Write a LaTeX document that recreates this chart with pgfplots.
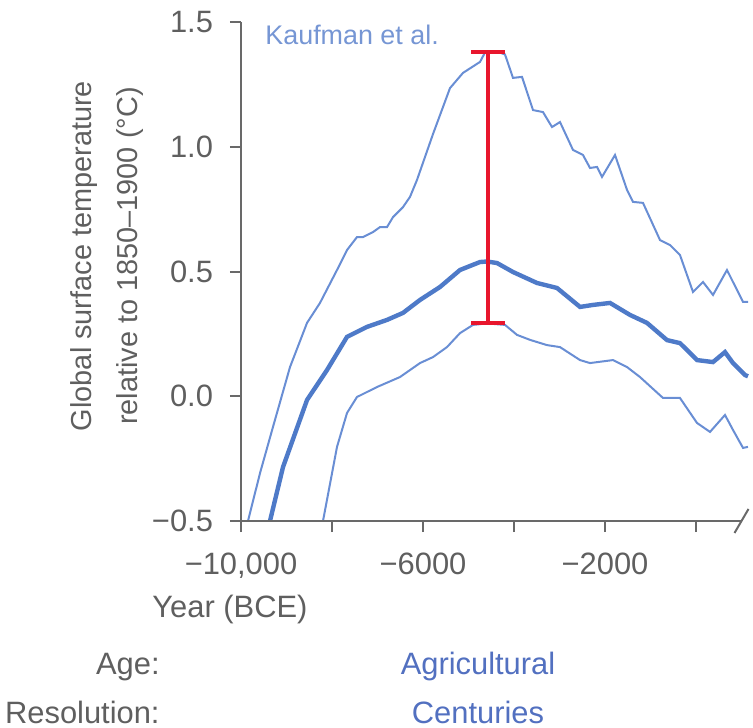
\documentclass[border=0pt]{standalone}
\usepackage{fontspec}
\setmainfont{Liberation Sans}
\usepackage{pgfplots}
\pgfplotsset{compat=1.18}

\definecolor{axisgray}{RGB}{105,105,105}
\definecolor{labgray}{RGB}{95,95,95}
\definecolor{thinblue}{RGB}{105,142,212}
\definecolor{meanblue}{RGB}{78,122,200}
\definecolor{txtblue}{RGB}{118,150,212}
\definecolor{agblue}{RGB}{82,112,192}
\definecolor{barred}{RGB}{232,22,45}

\begin{document}
\begin{tikzpicture}
  % 1 px of the reference = 0.5bp, origin at the axis corner (-10000,-0.5)
  \useasboundingbox (-120.5bp,-103.5bp) rectangle (256bp,260.5bp);
  \begin{axis}[
      scale only axis, width=250.25bp, height=249.5bp,
      xmin=-10000, xmax=1000, ymin=-0.5, ymax=1.5,
      clip=false, scaled x ticks=false,
      axis lines=left, axis line style={-, axisgray, line width=1bp},
      x axis line style={draw=none},
      xtick={-10000,-8000,-6000,-4000,-2000,0},
      xticklabels={{−10,000},,−6000,,−2000,},
      ytick={-0.5,0,0.5,1,1.5},
      yticklabels={−0.5,0.0,0.5,1.0,1.5},
      tick align=outside, major tick length=5.5bp,
      tick style={axisgray, line width=1bp},
      tick label style={font=\fontsize{15.5}{18}\selectfont, text=labgray},
      xticklabel style={yshift=-7bp},
      yticklabel style={xshift=-5bp},
    ]
    % upper bound
    \addplot[thinblue, line width=1bp] coordinates {
      (-9846,-0.5) (-9582,-0.308) (-9297,-0.123) (-8923,0.117) (-8549,0.294)
      (-8264,0.374) (-7890,0.506) (-7670,0.586) (-7451,0.638) (-7319,0.638)
      (-7099,0.658) (-6945,0.678) (-6791,0.678) (-6659,0.718) (-6440,0.758)
      (-6286,0.799) (-6132,0.867) (-5780,1.051) (-5407,1.235) (-5121,1.296)
      (-4747,1.340) (-4637,1.378) (-4352,1.380) (-4198,1.370) (-4022,1.276)
      (-3824,1.280) (-3582,1.147) (-3363,1.139) (-3165,1.079) (-2989,1.099)
      (-2703,0.987) (-2484,0.967) (-2330,0.915) (-2176,0.919) (-2066,0.879)
      (-1780,0.967) (-1516,0.827) (-1385,0.779) (-1165,0.775) (-791,0.626)
      (-571,0.606) (-352,0.566) (-66,0.418) (154,0.458) (374,0.406)
      (681,0.506) (1033,0.378) (1143,0.378)};
    % mean
    \addplot[meanblue, line width=2.2bp] coordinates {
      (-9363,-0.5) (-9077,-0.284) (-8549,-0.015) (-8110,0.105) (-7670,0.238)
      (-7231,0.278) (-6791,0.306) (-6440,0.334) (-6066,0.386) (-5626,0.438)
      (-5187,0.506) (-4747,0.538) (-4593,0.540) (-4374,0.534) (-4022,0.498)
      (-3495,0.454) (-3055,0.434) (-2549,0.358) (-2264,0.366) (-1890,0.374)
      (-1451,0.326) (-1077,0.294) (-637,0.225) (-352,0.213) (22,0.145)
      (374,0.137) (637,0.177) (813,0.133) (1077,0.085) (1143,0.080)};
    % lower bound
    \addplot[thinblue, line width=1bp] coordinates {
      (-8198,-0.5) (-7890,-0.203) (-7670,-0.067) (-7451,-0.003) (-7011,0.037)
      (-6506,0.077) (-6066,0.133) (-5780,0.157) (-5473,0.197) (-5187,0.253)
      (-4901,0.286) (-4593,0.292) (-4198,0.286) (-3934,0.246) (-3648,0.226)
      (-3275,0.205) (-2989,0.197) (-2549,0.145) (-2330,0.133) (-1824,0.145)
      (-1516,0.117) (-1231,0.077) (-725,-0.007) (-352,-0.007) (22,-0.107)
      (308,-0.143) (637,-0.075) (813,-0.135) (1033,-0.207) (1143,-0.203)};
    % red range bar
    \addplot[barred, line width=2bp] coordinates {(-4571,0.294) (-4571,1.38)};
    \addplot[barred, line width=2bp] coordinates {(-4938,1.38) (-4204,1.38)};
    \addplot[barred, line width=2bp] coordinates {(-4938,0.294) (-4204,0.294)};
    % x axis line with break mark
    \draw[axisgray, line width=1bp] (axis cs:-10000,-0.5) -- (axis cs:1000,-0.5);
    \draw[axisgray, line width=1bp]
      ([shift={(-3.5bp,-6bp)}]axis cs:1000,-0.5) -- ([shift={(3.5bp,6bp)}]axis cs:1000,-0.5);
  \end{axis}
  \begin{scope}[every node/.style={inner sep=0pt}]
    \node[rotate=90, text=labgray, font=\fontsize{14.5}{17}\selectfont]
      at (-78.5bp,132.5bp) {Global surface temperature};
    \node[rotate=90, text=labgray, font=\fontsize{14.5}{17}\selectfont]
      at (-55.5bp,132.5bp) {relative to 1850–1900 (°C)};
    \node[anchor=west, text=txtblue, font=\fontsize{13.5}{16}\selectfont]
      at (12bp,243bp) {Kaufman et al.};
    \node[anchor=west, text=labgray, font=\fontsize{15.5}{18}\selectfont]
      at (-44.5bp,-44.5bp) {Year (BCE)};
    \node[anchor=east, text=labgray, font=\fontsize{15.5}{18}\selectfont]
      at (-40.5bp,-73bp) {Age:};
    \node[anchor=east, text=labgray, font=\fontsize{15.5}{18}\selectfont]
      at (-40.5bp,-95.5bp) {Resolution:};
    \node[text=agblue, font=\fontsize{15.5}{18}\selectfont]
      at (118.5bp,-73bp) {Agricultural};
    \node[text=agblue, font=\fontsize{15.5}{18}\selectfont]
      at (118.5bp,-95.5bp) {Centuries};
  \end{scope}
\end{tikzpicture}
\end{document}
